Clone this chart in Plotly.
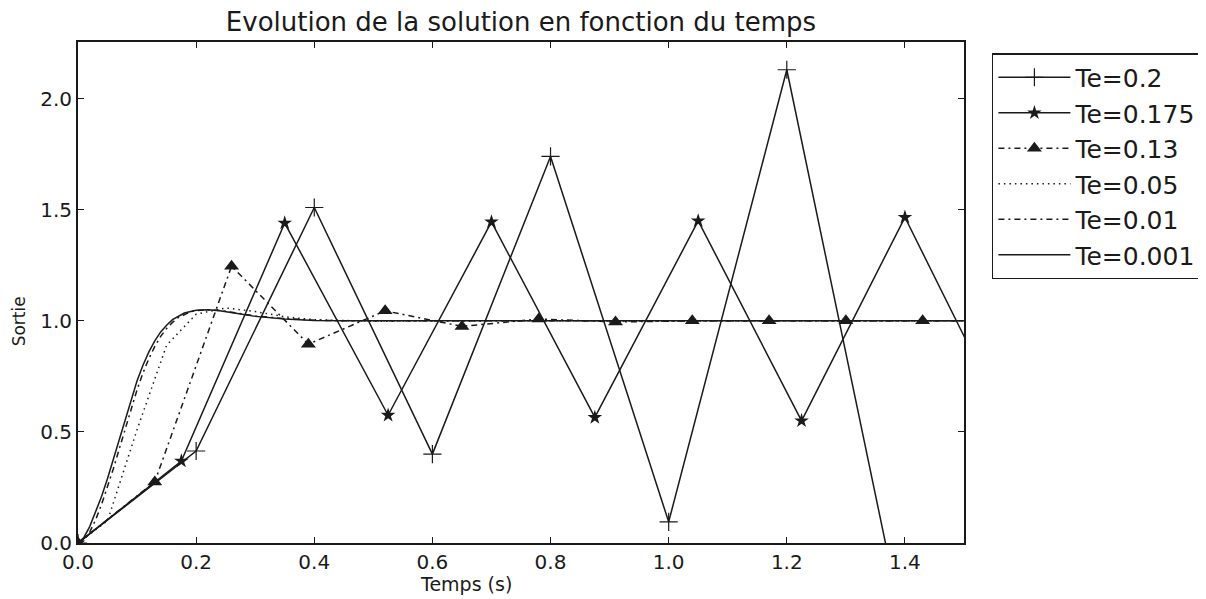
import plotly.graph_objects as go

# Te = 0.2
t_02 = [0, 0.2, 0.4, 0.6, 0.8, 1.0, 1.2, 1.4]
y_02 = [0, 0.414, 1.51, 0.40, 1.74, 0.095, 2.13, -0.42]

# Te = 0.175
t_0175 = [0, 0.175, 0.35, 0.525, 0.7, 0.875, 1.05, 1.225, 1.4, 1.575]
y_0175 = [0, 0.369, 1.44, 0.575, 1.445, 0.565, 1.45, 0.55, 1.466, 0.53]

# Te = 0.13
t_013 = [0, 0.13, 0.26, 0.39, 0.52, 0.65, 0.78, 0.91, 1.04, 1.17, 1.30, 1.43, 1.56]
y_013 = [0, 0.275, 1.246, 0.895, 1.045, 0.975, 1.008, 0.995, 1.0, 1.0, 1.0, 1.0, 1.0]

# Te = 0.05
t_005 = [0, 0.05, 0.10, 0.15, 0.20, 0.25, 0.30, 0.35, 0.40, 0.45, 0.50, 0.55,
         0.60, 0.70, 0.80, 0.90, 1.00, 1.10, 1.20, 1.30, 1.40, 1.50]
y_005 = [0, 0.10, 0.51, 0.89, 1.03, 1.058, 1.042, 1.018, 1.005, 1.0, 0.998, 0.999,
         1.0, 1.0, 1.0, 1.0, 1.0, 1.0, 1.0, 1.0, 1.0, 1.0]

# Te = 0.01
t_001 = [0, 0.01, 0.02, 0.03, 0.04, 0.05, 0.06, 0.07, 0.08, 0.09, 0.10, 0.11,
         0.12, 0.13, 0.14, 0.15, 0.16, 0.17, 0.18, 0.19, 0.20, 0.22, 0.24, 0.27,
         0.30, 0.35, 0.40, 0.45, 0.50, 1.50]
y_001 = [0, 0.012, 0.05, 0.105, 0.175, 0.25, 0.335, 0.425, 0.515, 0.605, 0.69, 0.765,
         0.83, 0.885, 0.93, 0.965, 0.993, 1.015, 1.028, 1.04, 1.046, 1.05, 1.047, 1.036,
         1.022, 1.01, 1.003, 1.0, 1.0, 1.0]

# Te = 0.001 (quasi continu)
t_0001 = [0, 0.01, 0.02, 0.03, 0.04, 0.05, 0.06, 0.07, 0.08, 0.09, 0.10, 0.11,
          0.12, 0.13, 0.14, 0.15, 0.16, 0.18, 0.20, 0.22, 0.24, 0.27, 0.30, 0.35,
          0.40, 0.45, 0.50, 0.60, 0.80, 1.00, 1.50]
y_0001 = [0, 0.025, 0.075, 0.14, 0.21, 0.29, 0.38, 0.47, 0.56, 0.65, 0.73, 0.80,
          0.86, 0.91, 0.95, 0.98, 1.005, 1.035, 1.048, 1.05, 1.045, 1.033, 1.02, 1.008,
          1.002, 1.0, 1.0, 1.0, 1.0, 1.0, 1.0]

x_ticks = [0.0, 0.2, 0.4, 0.6, 0.8, 1.0, 1.2, 1.4]
y_ticks = [0.0, 0.5, 1.0, 1.5, 2.0]

ink = "#1a1a1a"
font_family = "DejaVu Sans"

fig = go.Figure()

fig.add_trace(go.Scatter(
    x=t_02, y=y_02, name="Te=0.2", mode="lines+markers",
    line=dict(color=ink, width=1.5),
    marker=dict(symbol="cross-thin", size=13, color=ink, line=dict(width=1.2, color=ink))
))
fig.add_trace(go.Scatter(
    x=t_0175, y=y_0175, name="Te=0.175", mode="lines+markers",
    line=dict(color=ink, width=1.5),
    marker=dict(symbol="star", size=11, color=ink)
))
fig.add_trace(go.Scatter(
    x=t_013, y=y_013, name="Te=0.13", mode="lines+markers",
    line=dict(color=ink, width=1.5, dash="6px,4px,2px,4px"),
    marker=dict(symbol="triangle-up", size=13, color=ink)
))
fig.add_trace(go.Scatter(
    x=t_005, y=y_005, name="Te=0.05", mode="lines",
    line=dict(color=ink, width=1.5, dash="1.5px,4px")
))
fig.add_trace(go.Scatter(
    x=t_001, y=y_001, name="Te=0.01", mode="lines",
    line=dict(color=ink, width=1.5, dash="6px,4px,2px,4px")
))
fig.add_trace(go.Scatter(
    x=t_0001, y=y_0001, name="Te=0.001", mode="lines",
    line=dict(color=ink, width=1.5)
))

fig.update_xaxes(
    range=[0, 1.5], tickvals=x_ticks, tickformat=".1f",
    ticks="inside", ticklen=6, tickwidth=1, tickcolor=ink,
    showline=True, linecolor=ink, linewidth=2, mirror="ticks",
    showgrid=False, zeroline=False,
    tickfont=dict(size=20, color=ink)
)
fig.update_yaxes(
    range=[0, 2.255], tickvals=y_ticks, tickformat=".1f",
    ticks="inside", ticklen=6, tickwidth=1, tickcolor=ink,
    showline=True, linecolor=ink, linewidth=2, mirror="ticks",
    showgrid=False, zeroline=False,
    tickfont=dict(size=20, color=ink)
)

# axis labels sit a bit off-centre in the original, so place them by hand
fig.add_annotation(
    text="Temps (s)", xref="paper", yref="paper", x=0.4376, y=-0.081,
    xanchor="center", yanchor="middle", showarrow=False,
    font=dict(size=19, color=ink)
)
fig.add_annotation(
    text="Sortie", xref="paper", yref="paper", x=-0.0664, y=0.4428,
    xanchor="center", yanchor="middle", showarrow=False, textangle=-90,
    font=dict(size=17, color=ink)
)

# the page adds an 8px body margin, so the margins are shifted by that much
fig.update_layout(
    width=1206,
    height=599,
    margin=dict(l=70, r=247, t=34, b=64),
    paper_bgcolor="white",
    plot_bgcolor="white",
    font=dict(family=font_family, color=ink),
    title=dict(
        text="Evolution de la solution en fonction du temps",
        xref="paper", x=0.5, xanchor="center", y=0.977, yanchor="middle",
        font=dict(size=26, color=ink)
    ),
    legend=dict(
        x=1.0315, xanchor="left", y=0.978, yanchor="top",
        bordercolor=ink, borderwidth=1.5, bgcolor="white",
        font=dict(size=25, color=ink), itemwidth=72,
        tracegroupgap=0
    ),
    showlegend=True
)

fig.write_html("out.html")
